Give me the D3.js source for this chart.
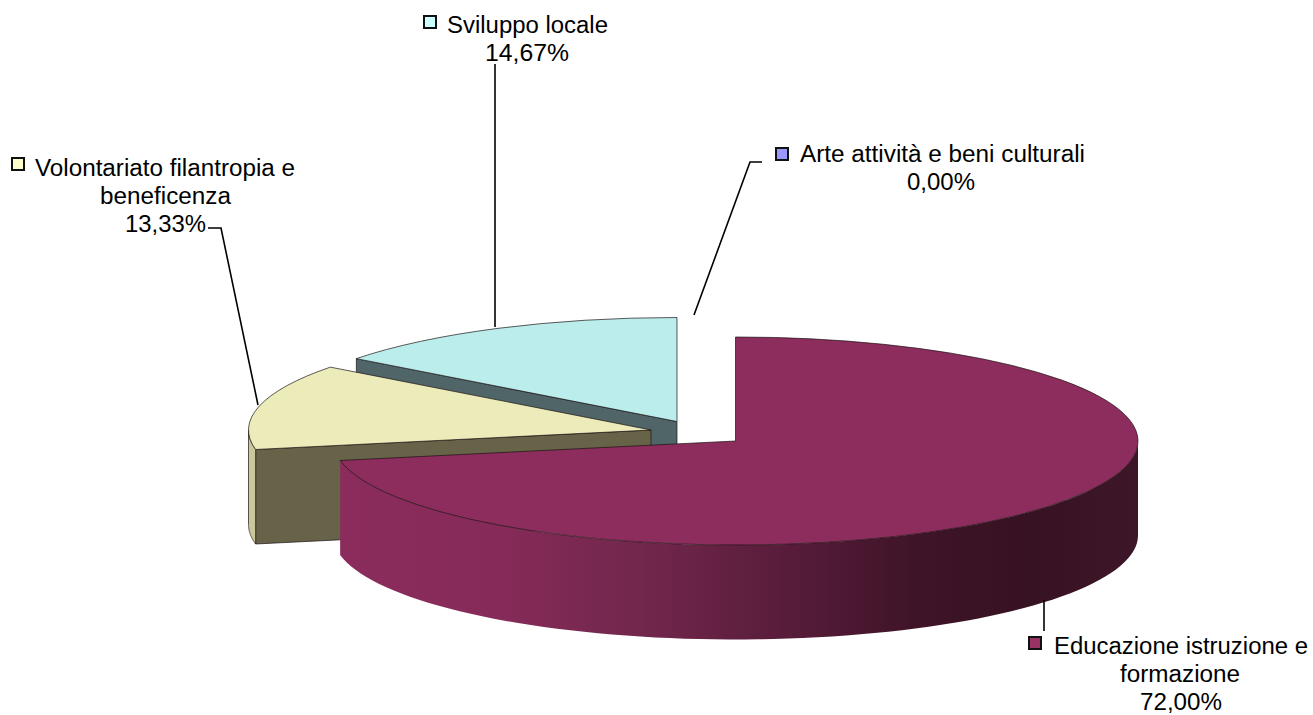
<!DOCTYPE html>
<html><head><meta charset="utf-8">
<script src="https://cdn.jsdelivr.net/npm/d3@7/dist/d3.min.js"></script>
<style>html,body{margin:0;padding:0;background:#fff}svg{display:block}text{font-family:"Liberation Sans",Arial,sans-serif;fill:#000}</style>
</head><body><svg id="c" width="1313" height="715"></svg>
<script>
const categories = ["Educazione istruzione e formazione","Volontariato filantropia e beneficenza","Sviluppo locale","Arte attività e beni culturali"];
const values = [72.00,13.33,14.67,0.00];
const valueLabels = ["72,00%","13,33%","14,67%","0,00%"];
const keyColors = ["#993366","#ffffcc","#ccffff","#9999ff"];
const topColors = ["#8c2d5d","#ecebba","#bbeded","#9999ff"];
const faceColors = ["#5c1e3e","#666349","#4f6567","#666699"];

const RX=402.5, RY=104, DEPTH=94.5;
const centres=[[735.5,441],[651,430],[677,421.5],[677,421.5]];
const svg=d3.select("#c");
const arcs=d3.pie().sort(null).value(d=>d)(values);
const arcGen=d3.arc().innerRadius(0).outerRadius(RX);
const ang=d3.scaleLinear().domain([0,1]);
const px=a=>RX*Math.sin(a), py=a=>-RY*Math.cos(a);
const EDGE="rgba(30,20,20,.7)";

const defs=svg.append("defs");
const grad=defs.append("linearGradient").attr("id","wall").attr("gradientUnits","userSpaceOnUse")
  .attr("x1",-RX).attr("x2",RX).attr("y1",0).attr("y2",0);
[[0,"#8b2c5c"],[.2,"#862b59"],[.38,"#72274c"],[.55,"#5a1d3b"],[.72,"#3f1429"],[.86,"#371222"],[1,"#3e1629"]]
  .forEach(([o,c])=>grad.append("stop").attr("offset",o).attr("stop-color",c));
const wallFills=["url(#wall)","#c9c79b","none"];

// wall: outer rim piece that faces the viewer (clockwise angle between 90° and 270°)
function wallPath(a0,a1){
  const lo=Math.max(a0,Math.PI/2), hi=Math.min(a1,Math.PI*1.5);
  if(hi<=lo) return null;
  ang.range([lo,hi]);
  const t=d3.range(0,1.0001,1/80).map(ang);
  const pts=t.map(a=>[px(a),py(a)]).concat(t.slice().reverse().map(a=>[px(a),py(a)+DEPTH]));
  return d3.line()(pts)+"Z";
}
function facePath(a){
  return d3.line()([[px(a),py(a)],[0,0],[0,DEPTH],[px(a),py(a)+DEPTH]])+"Z";
}
// painted back to front
[2,1,0].forEach(i=>{
  const d=arcs[i], [cx,cy]=centres[i];
  const g=svg.append("g").attr("transform",`translate(${cx},${cy})`);
  if(i!==0) g.append("path").attr("d",facePath(d.startAngle))
     .attr("fill",faceColors[i]).attr("stroke",EDGE).attr("stroke-width",1);
  const w=wallPath(d.startAngle,d.endAngle);
  if(w) g.append("path").attr("d",w).attr("fill",wallFills[i]).attr("stroke",i===0?"none":EDGE).attr("stroke-width",1);
  g.append("path").attr("d",arcGen(d)).attr("transform",`scale(1,${RY/RX})`)
     .attr("fill",topColors[i]).attr("stroke",EDGE).attr("stroke-width",1).attr("vector-effect","non-scaling-stroke");
});

// leader lines
const leaders=[
 [[1044,600],[1044,631]],
 [[258,405],[221,228],[208,228]],
 [[495,327],[495,64]],
 [[694,315],[750,162],[762,162]]
];
leaders.forEach(p=>svg.append("path").attr("d",d3.line()(p)).attr("fill","none").attr("stroke","#000").attr("stroke-width",1.6));

// labels
const layout=[
 {key:[1029,637],lines:[["Educazione istruzione e",1054,654,254],["formazione",1120,682,120],[valueLabels[0],1140,710,82]]},
 {key:[12,158],lines:[["Volontariato filantropia e",35,176,260],["beneficenza",100,204,131],[valueLabels[1],125,232,81]]},
 {key:[424,16],lines:[["Sviluppo locale",447,33,161],[valueLabels[2],485,61,84]]},
 {key:[776,148],lines:[["Arte attività e beni culturali",800,162,285],[valueLabels[3],907,190,68]]}
];
layout.forEach((l,i)=>{
  svg.append("rect").attr("x",l.key[0]).attr("y",l.key[1]).attr("width",12).attr("height",12)
    .attr("fill",keyColors[i]).attr("stroke","#111").attr("stroke-width",2);
  l.lines.forEach(([t,x,y,w])=>svg.append("text").attr("x",x).attr("y",y).attr("font-size",23.5)
    .attr("textLength",w).attr("lengthAdjust","spacingAndGlyphs").text(t));
});
</script></body></html>
